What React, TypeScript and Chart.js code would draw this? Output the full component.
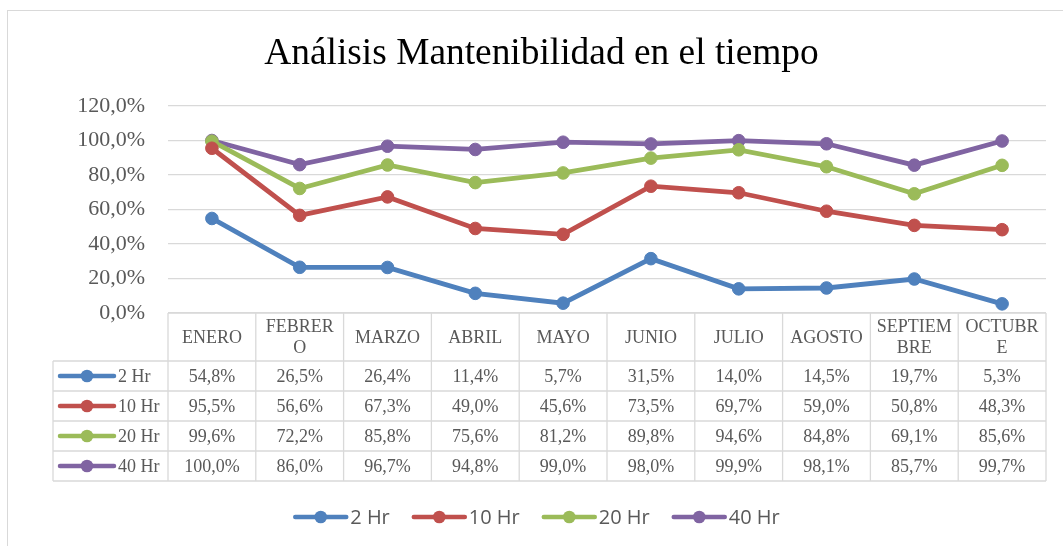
import React, { useEffect, useRef } from "react";
import { Chart, registerables } from "chart.js";

Chart.register(...registerables);

const title = "Análisis Mantenibilidad en el tiempo";
const categories: string[][] = [
  ["ENERO"],
  ["FEBRER", "O"],
  ["MARZO"],
  ["ABRIL"],
  ["MAYO"],
  ["JUNIO"],
  ["JULIO"],
  ["AGOSTO"],
  ["SEPTIEM", "BRE"],
  ["OCTUBR", "E"],
];
const seriesNames = ["2 Hr", "10 Hr", "20 Hr", "40 Hr"];
const seriesColors = ["#4F81BD", "#C0504D", "#9BBB59", "#8064A2"];
const s2 = [54.8, 26.5, 26.4, 11.4, 5.7, 31.5, 14.0, 14.5, 19.7, 5.3];
const s10 = [95.5, 56.6, 67.3, 49.0, 45.6, 73.5, 69.7, 59.0, 50.8, 48.3];
const s20 = [99.6, 72.2, 85.8, 75.6, 81.2, 89.8, 94.6, 84.8, 69.1, 85.6];
const s40 = [100.0, 86.0, 96.7, 94.8, 99.0, 98.0, 99.9, 98.1, 85.7, 99.7];
const seriesValues = [s2, s10, s20, s40];
const yMin = 0;
const yMax = 120;
const yStep = 20;

const fmt = (v: number) => v.toFixed(1).replace(".", ",") + "%";

const GRID = "#D9D9D9";
const TEXT = "#595959";
const SERIF = "'Liberation Serif', 'Times New Roman', serif";
const SANS = "'Open Sans', 'Noto Sans', sans-serif";

function drawKey(ctx: CanvasRenderingContext2D, x0: number, x1: number, y: number, color: string) {
  ctx.save();
  ctx.strokeStyle = color;
  ctx.lineWidth = 4.5;
  ctx.lineCap = "round";
  ctx.beginPath();
  ctx.moveTo(x0, y);
  ctx.lineTo(x1, y);
  ctx.stroke();
  ctx.fillStyle = color;
  ctx.beginPath();
  ctx.arc((x0 + x1) / 2, y, 6.3, 0, Math.PI * 2);
  ctx.fill();
  ctx.restore();
}

const tablePlugin = {
  id: "tablePlugin",
  beforeDraw(chart: any) {
    const ctx = chart.ctx as CanvasRenderingContext2D;
    ctx.save();
    ctx.fillStyle = "#FFFFFF";
    ctx.fillRect(0, 0, chart.width, chart.height);
    ctx.strokeStyle = GRID;
    ctx.lineWidth = 1;
    ctx.strokeRect(7.5, 10.5, chart.width + 10, chart.height + 10);
    // title
    ctx.fillStyle = "#000000";
    ctx.font = `37.4px ${SERIF}`;
    ctx.textAlign = "center";
    ctx.textBaseline = "alphabetic";
    ctx.fillText(title, 541.5, 64);
    ctx.restore();
  },
  afterDraw(chart: any) {
    const ctx = chart.ctx as CanvasRenderingContext2D;
    const xs = chart.scales.x;
    const area = chart.chartArea;
    const n = categories.length;
    const step = xs.getPixelForValue(1) - xs.getPixelForValue(0);
    const bounds: number[] = [];
    for (let i = 0; i <= n; i++) bounds.push(area.left + i * step);
    const top = area.bottom;
    const headerBottom = top + 48;
    const rowH = 30;
    const tableLeft = 53;
    const rowYs: number[] = [headerBottom];
    for (let r = 0; r < seriesValues.length; r++) rowYs.push(headerBottom + (r + 1) * rowH);
    const tableBottom = rowYs[rowYs.length - 1];

    ctx.save();
    ctx.strokeStyle = GRID;
    ctx.lineWidth = 1.3;
    ctx.beginPath();
    ctx.moveTo(area.left, top);
    ctx.lineTo(area.right, top);
    for (const y of rowYs) {
      ctx.moveTo(tableLeft, y);
      ctx.lineTo(area.right, y);
    }
    for (const bx of bounds) {
      ctx.moveTo(bx, top);
      ctx.lineTo(bx, tableBottom);
    }
    ctx.moveTo(tableLeft, headerBottom);
    ctx.lineTo(tableLeft, tableBottom);
    ctx.stroke();

    // header labels
    ctx.fillStyle = TEXT;
    ctx.font = `18px ${SERIF}`;
    ctx.textAlign = "center";
    ctx.textBaseline = "middle";
    const headerMid = (top + headerBottom) / 2;
    const lh = 21;
    categories.forEach((lines, i) => {
      const cx = xs.getPixelForValue(i);
      const start = headerMid - ((lines.length - 1) * lh) / 2;
      lines.forEach((ln, j) => ctx.fillText(ln, cx, start + j * lh + 1));
    });

    // rows
    seriesValues.forEach((vals, r) => {
      const cy = (rowYs[r] + rowYs[r + 1]) / 2 + 1;
      drawKey(ctx, 60, 114, cy - 1, seriesColors[r]);
      ctx.fillStyle = TEXT;
      ctx.font = `18px ${SERIF}`;
      ctx.textAlign = "left";
      ctx.fillText(seriesNames[r], 118, cy);
      ctx.textAlign = "center";
      vals.forEach((v, i) => ctx.fillText(fmt(v), xs.getPixelForValue(i), cy));
    });

    // bottom legend
    ctx.font = `20px ${SANS}`;
    ctx.textBaseline = "middle";
    ctx.textAlign = "left";
    const keyW = 53;
    const gapKT = 4;
    const gapItems = 22;
    const widths = seriesNames.map((s) => keyW + gapKT + ctx.measureText(s).width);
    const total = widths.reduce((a, b) => a + b, 0) + gapItems * (seriesNames.length - 1);
    let x = 536.5 - total / 2;
    const ly = 517;
    seriesNames.forEach((s, i) => {
      drawKey(ctx, x + 2, x + keyW, ly, seriesColors[i]);
      ctx.fillStyle = TEXT;
      ctx.fillText(s, x + keyW + gapKT, ly + 1);
      x += widths[i] + gapItems;
    });
    ctx.restore();
  },
};

export default function App() {
  const ref = useRef<HTMLCanvasElement | null>(null);
  useEffect(() => {
    if (!ref.current) return;
    const chart = new Chart(ref.current, {
      type: "line",
      data: {
        labels: categories.map((c) => c.join("")),
        datasets: seriesValues.map((vals, i) => ({
          label: seriesNames[i],
          data: vals,
          borderColor: seriesColors[i],
          backgroundColor: seriesColors[i],
          pointBackgroundColor: seriesColors[i],
          pointBorderColor: seriesColors[i],
          pointBorderWidth: 1,
          pointRadius: 6.3,
          borderWidth: 4.8,
          tension: 0,
          fill: false,
        })),
      },
      options: {
        responsive: false,
        animation: false,
        devicePixelRatio: 1,
        layout: { padding: { left: 0, right: 17, top: 106, bottom: 233 } },
        plugins: {
          legend: { display: false },
          title: { display: false },
          tooltip: { enabled: false },
        },
        scales: {
          x: {
            type: "category",
            display: false,
            offset: true,
          },
          y: {
            min: yMin,
            max: yMax,
            border: { display: false },
            grid: { color: GRID, lineWidth: 1.3, drawTicks: false },
            ticks: {
              stepSize: yStep,
              padding: 23,
              color: TEXT,
              font: { family: SERIF, size: 22 },
              callback: (v: any) => fmt(Number(v)),
            },
            afterFit: (scale: any) => {
              scale.width = 168;
            },
          },
        },
      },
      plugins: [tablePlugin],
    } as any);
    return () => chart.destroy();
  }, []);
  return (
    <div style={{ position: "absolute", left: 0, top: 0, width: 1063, height: 546 }}>
      <canvas ref={ref} width={1063} height={546} style={{ display: "block" }} />
    </div>
  );
}
